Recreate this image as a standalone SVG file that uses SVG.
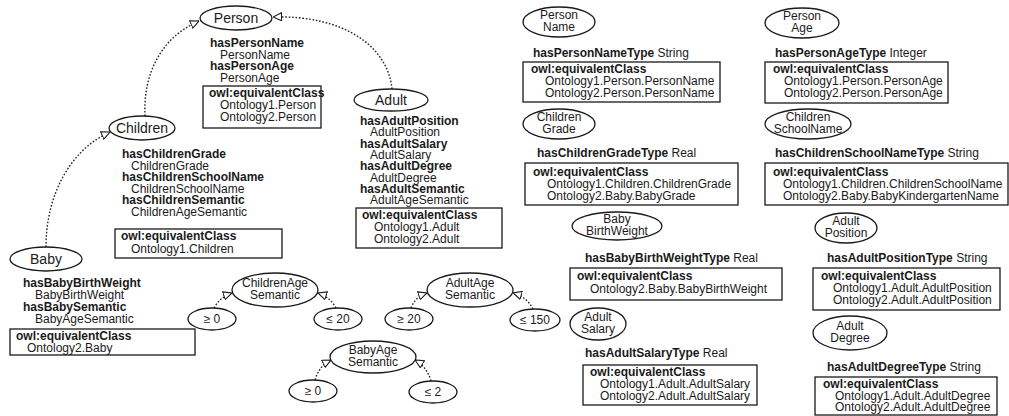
<svg xmlns="http://www.w3.org/2000/svg" width="1009" height="416" viewBox="0 0 1009 416">
<style>
text{font-family:"Liberation Sans",Arial,sans-serif;font-size:12px;fill:#1a1a1a}
.b{font-weight:bold}
.c{text-anchor:middle}
.big{font-size:14px}
.el{fill:#fff;stroke:#1a1a1a;stroke-width:1.3}
.bx{fill:none;stroke:#1a1a1a;stroke-width:1.3}
.conn path{fill:none;stroke:#222;stroke-width:1.4;stroke-dasharray:1.6 1.8;marker-end:url(#tri)}
</style>
<defs>
<marker id="tri" viewBox="0 0 10 10" refX="10" refY="5" markerWidth="9" markerHeight="9" orient="auto" markerUnits="userSpaceOnUse">
<path d="M0.5,0.5 L10,5 L0.5,9.5 z" fill="#fff" stroke="#1a1a1a" stroke-width="1.2" stroke-dasharray="none"/>
</marker>
</defs>
<rect width="1009" height="416" fill="#fff"/>

<g class="conn" id="connectors">
<path d="M145,116 C143,75 160,38 199,21"/>
<path d="M392,89 C388,47 345,15 273,17"/>
<path d="M46,247 C46,195 70,150 110,132"/>
<path d="M214,308 Q220,297 232,293"/>
<path d="M336,308 Q330,297 318,293"/>
<path d="M411,308 Q415,297 427,293"/>
<path d="M533,309 Q527,297 513,293"/>
<path d="M315,380 Q319,366 331,360"/>
<path d="M431,381 Q427,367 415,360"/>
</g>

<g id="person">
<ellipse class="el" cx="236" cy="18" rx="36" ry="12"/>
<text class="c big" x="236" y="23">Person</text>
<text class="b" x="210" y="47">hasPersonName</text>
<text x="220" y="59">PersonName</text>
<text class="b" x="210" y="70">hasPersonAge</text>
<text x="220" y="82">PersonAge</text>
<rect class="bx" x="203" y="86" width="118" height="42"/>
<text class="b" x="209" y="97">owl:equivalentClass</text>
<text x="220" y="109">Ontology1.Person</text>
<text x="220" y="121">Ontology2.Person</text>
</g>

<g id="children">
<ellipse class="el" cx="142" cy="128" rx="33" ry="12"/>
<text class="c big" x="142" y="133">Children</text>
<text class="b" x="122" y="158">hasChildrenGrade</text>
<text x="131" y="169.5">ChildrenGrade</text>
<text class="b" x="122" y="181">hasChildrenSchoolName</text>
<text x="131" y="192.5">ChildrenSchoolName</text>
<text class="b" x="122" y="204">hasChildrenSemantic</text>
<text x="131" y="215.5">ChildrenAgeSemantic</text>
<rect class="bx" x="115" y="229" width="167" height="29"/>
<text class="b" x="121" y="240">owl:equivalentClass</text>
<text x="131" y="253">Ontology1.Children</text>
</g>

<g id="adult">
<ellipse class="el" cx="391" cy="100" rx="37" ry="11"/>
<text class="c big" x="391" y="105">Adult</text>
<text class="b" x="360" y="125">hasAdultPosition</text>
<text x="370" y="136.3">AdultPosition</text>
<text class="b" x="360" y="147.6">hasAdultSalary</text>
<text x="370" y="159">AdultSalary</text>
<text class="b" x="360" y="170.3">hasAdultDegree</text>
<text x="370" y="181.6">AdultDegree</text>
<text class="b" x="360" y="193">hasAdultSemantic</text>
<text x="370" y="204.3">AdultAgeSemantic</text>
<rect class="bx" x="356" y="208" width="146" height="40"/>
<text class="b" x="362" y="219">owl:equivalentClass</text>
<text x="374" y="231">Ontology1.Adult</text>
<text x="374" y="243">Ontology2.Adult</text>
</g>

<g id="baby">
<ellipse class="el" cx="46" cy="259" rx="36" ry="12"/>
<text class="c big" x="46" y="264">Baby</text>
<text class="b" x="23" y="287">hasBabyBirthWeight</text>
<text x="35" y="299">BabyBirthWeight</text>
<text class="b" x="23" y="311">hasBabySemantic</text>
<text x="35" y="323">BabyAgeSemantic</text>
<rect class="bx" x="10" y="329" width="185" height="26"/>
<text class="b" x="16" y="340">owl:equivalentClass</text>
<text x="27" y="352">Ontology2.Baby</text>
</g>

<g id="childrenAgeSemantic">
<ellipse class="el" cx="275" cy="290" rx="43" ry="17"/>
<text class="c" x="275" y="287">ChildrenAge</text>
<text class="c" x="275" y="299">Semantic</text>
</g>
<g id="childrenAgeMin">
<ellipse class="el" cx="212" cy="319" rx="24" ry="11"/>
<text class="c" x="212" y="323">≥ 0</text>
</g>
<g id="childrenAgeMax">
<ellipse class="el" cx="338" cy="319" rx="24" ry="11"/>
<text class="c" x="338" y="323">≤ 20</text>
</g>

<g id="adultAgeSemantic">
<ellipse class="el" cx="470" cy="290" rx="43" ry="17"/>
<text class="c" x="470" y="287">AdultAge</text>
<text class="c" x="470" y="299">Semantic</text>
</g>
<g id="adultAgeMin">
<ellipse class="el" cx="409" cy="319" rx="24" ry="11"/>
<text class="c" x="409" y="323">≥ 20</text>
</g>
<g id="adultAgeMax">
<ellipse class="el" cx="535" cy="320" rx="25" ry="11"/>
<text class="c" x="535" y="324">≤ 150</text>
</g>

<g id="babyAgeSemantic">
<ellipse class="el" cx="373" cy="357" rx="43" ry="16"/>
<text class="c" x="373" y="354">BabyAge</text>
<text class="c" x="373" y="366">Semantic</text>
</g>
<g id="babyAgeMin">
<ellipse class="el" cx="313" cy="391" rx="24" ry="11"/>
<text class="c" x="313" y="395">≥ 0</text>
</g>
<g id="babyAgeMax">
<ellipse class="el" cx="433" cy="392" rx="24" ry="11"/>
<text class="c" x="433" y="396">≤ 2</text>
</g>

<g id="personName">
<ellipse class="el" cx="559" cy="22" rx="36" ry="15"/>
<text class="c" x="559" y="19">Person</text>
<text class="c" x="559" y="31">Name</text>
<text x="533" y="57"><tspan class="b">hasPersonNameType</tspan> String</text>
<rect class="bx" x="523" y="62" width="197" height="40"/>
<text class="b" x="531" y="73">owl:equivalentClass</text>
<text x="545" y="85">Ontology1.Person.PersonName</text>
<text x="545" y="97">Ontology2.Person.PersonName</text>
</g>

<g id="personAge">
<ellipse class="el" cx="802" cy="23" rx="37" ry="15"/>
<text class="c" x="802" y="20">Person</text>
<text class="c" x="802" y="32">Age</text>
<text x="775" y="57"><tspan class="b">hasPersonAgeType</tspan> Integer</text>
<rect class="bx" x="765" y="62" width="183" height="41"/>
<text class="b" x="773" y="73">owl:equivalentClass</text>
<text x="784" y="85">Ontology1.Person.PersonAge</text>
<text x="784" y="97">Ontology2.Person.PersonAge</text>
</g>

<g id="childrenGrade">
<ellipse class="el" cx="559" cy="124" rx="36" ry="15"/>
<text class="c" x="559" y="121">Children</text>
<text class="c" x="559" y="133">Grade</text>
<text x="537" y="157"><tspan class="b">hasChildrenGradeType</tspan> Real</text>
<rect class="bx" x="525" y="163" width="213" height="42"/>
<text class="b" x="533" y="176">owl:equivalentClass</text>
<text x="547" y="188">Ontology1.Children.ChildrenGrade</text>
<text x="547" y="200">Ontology2.Baby.BabyGrade</text>
</g>

<g id="childrenSchoolName">
<ellipse class="el" cx="808" cy="124" rx="43" ry="15"/>
<text class="c" x="808" y="121">Children</text>
<text class="c" x="808" y="133">SchoolName</text>
<text x="775" y="157"><tspan class="b">hasChildrenSchoolNameType</tspan> String</text>
<rect class="bx" x="765" y="163" width="243" height="42"/>
<text class="b" x="773" y="176">owl:equivalentClass</text>
<text x="783" y="188">Ontology1.Children.ChildrenSchoolName</text>
<text x="783" y="200">Ontology2.Baby.BabyKindergartenName</text>
</g>

<g id="babyBirthWeight">
<ellipse class="el" cx="617" cy="226" rx="45" ry="14"/>
<text class="c" x="617" y="223">Baby</text>
<text class="c" x="617" y="235">BirthWeight</text>
<text x="585" y="262"><tspan class="b">hasBabyBirthWeightType</tspan> Real</text>
<rect class="bx" x="570" y="268" width="212" height="32"/>
<text class="b" x="577" y="280">owl:equivalentClass</text>
<text x="590" y="293">Ontology2.Baby.BabyBirthWeight</text>
</g>

<g id="adultPosition">
<ellipse class="el" cx="846" cy="228" rx="31" ry="15"/>
<text class="c" x="846" y="225">Adult</text>
<text class="c" x="846" y="237">Position</text>
<text x="827" y="262"><tspan class="b">hasAdultPositionType</tspan> String</text>
<rect class="bx" x="813" y="268" width="187" height="42"/>
<text class="b" x="821" y="280">owl:equivalentClass</text>
<text x="833" y="292">Ontology1.Adult.AdultPosition</text>
<text x="833" y="304">Ontology2.Adult.AdultPosition</text>
</g>

<g id="adultSalary">
<ellipse class="el" cx="598" cy="324" rx="28" ry="16"/>
<text class="c" x="598" y="321">Adult</text>
<text class="c" x="598" y="333">Salary</text>
<text x="585" y="357"><tspan class="b">hasAdultSalaryType</tspan> Real</text>
<rect class="bx" x="583" y="365" width="174" height="40"/>
<text class="b" x="590" y="376">owl:equivalentClass</text>
<text x="600" y="388">Ontology1.Adult.AdultSalary</text>
<text x="600" y="400">Ontology2.Adult.AdultSalary</text>
</g>

<g id="adultDegree">
<ellipse class="el" cx="850" cy="333" rx="37" ry="17"/>
<text class="c" x="850" y="330">Adult</text>
<text class="c" x="850" y="342">Degree</text>
<text x="827" y="371"><tspan class="b">hasAdultDegreeType</tspan> String</text>
<rect class="bx" x="815" y="377" width="182" height="38"/>
<text class="b" x="823" y="388">owl:equivalentClass</text>
<text x="835" y="400">Ontology1.Adult.AdultDegree</text>
<text x="835" y="411">Ontology2.Adult.AdultDegree</text>
</g>
</svg>
